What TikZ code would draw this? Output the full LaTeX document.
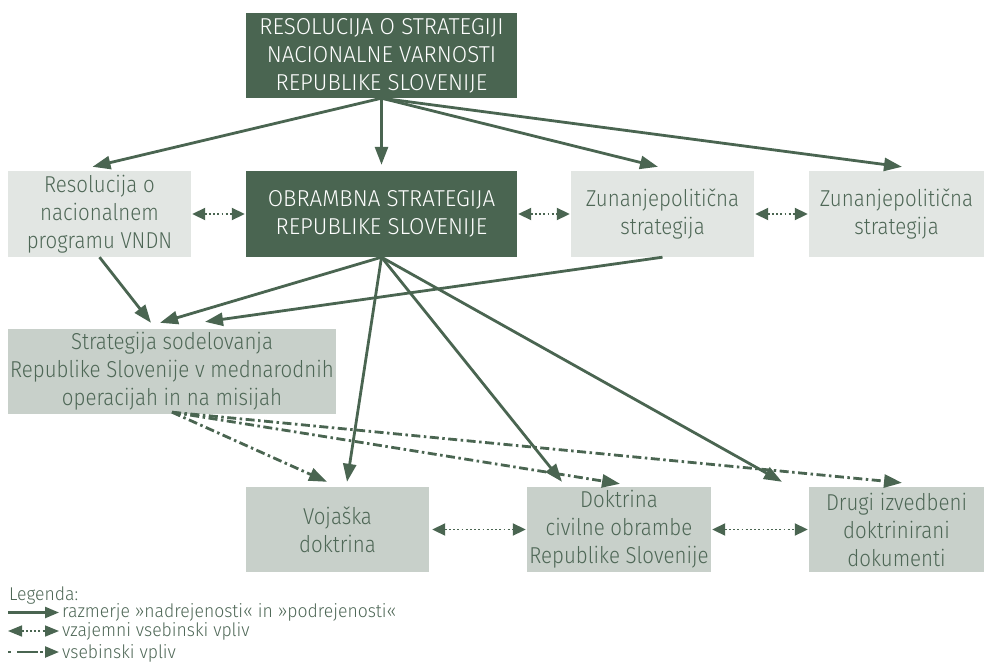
\documentclass[tikz,border=0pt]{standalone}
\usepackage{fontspec}
\setmainfont{Fira Sans Light}[FakeStretch=0.95]
\newfontfamily\lcfont{Fira Sans Light}[FakeStretch=0.89]
\newfontfamily\ucfont{Fira Sans Light}[FakeStretch=0.97]
\usetikzlibrary{arrows.meta,calc}
\definecolor{dk}{HTML}{4A6551}
\definecolor{lt}{HTML}{E2E6E3}
\definecolor{md}{HTML}{C8D0CA}
\definecolor{tx}{HTML}{4E6756}
\tikzset{
  box/.style={rectangle, inner sep=0pt, align=center},
  darkbox/.style={box, fill=dk, text=white, font=\ucfont\fontsize{23}{28}\selectfont},
  lightbox/.style={box, fill=lt, text=tx, font=\lcfont\fontsize{23}{28}\selectfont},
  midbox/.style={box, fill=md, text=tx, font=\lcfont\fontsize{23}{28}\selectfont},
  sup/.style={draw=dk, line width=2.8pt, -{Triangle[length=18pt,width=13pt]}},
  mutual/.style={draw=dk, line width=1.9pt, dash pattern=on 1.9pt off 2.3pt, {Triangle[length=13pt,width=12pt]}-{Triangle[length=13pt,width=12pt]}, shorten <=1pt, shorten >=1pt},
  infl/.style={draw=dk, line width=2.8pt, dash pattern=on 9pt off 3.5pt on 2.5pt off 3.5pt, -{Triangle[length=18pt,width=13pt]}},
  legtext/.style={anchor=base west, inner sep=0pt, text=tx, font=\fontsize{18.5}{18}\selectfont}
}
\begin{document}
\begin{tikzpicture}[x=1pt,y=-1pt]
\useasboundingbox (0,0) rectangle (984,661);
% boxes
\node[darkbox, minimum width=271pt, minimum height=85pt] (top) at (381.5,55.5) {RESOLUCIJA O STRATEGIJI\\NACIONALNE VARNOSTI\\REPUBLIKE SLOVENIJE};
\node[lightbox, minimum width=183pt, minimum height=86pt] (res) at (99.5,214) {Resolucija o\\nacionalnem\\programu VNDN};
\node[darkbox, minimum width=271pt, minimum height=86pt] (obr) at (381.5,214) {OBRAMBNA STRATEGIJA\\REPUBLIKE SLOVENIJE};
\node[lightbox, minimum width=183pt, minimum height=86pt] (zun1) at (662.5,214) {Zunanjepolitična\\strategija};
\node[lightbox, minimum width=175pt, minimum height=86pt] (zun2) at (896.5,214) {Zunanjepolitična\\strategija};
\node[midbox, minimum width=328pt, minimum height=85pt] (str) at (172,371.5) {Strategija sodelovanja\\Republike Slovenije v mednarodnih\\operacijah in na misijah};
\node[midbox, minimum width=183pt, minimum height=85pt] (voj) at (337.5,529.5) {Vojaška\\doktrina};
\node[midbox, minimum width=184pt, minimum height=85pt] (dok) at (619,529.5) {Doktrina\\civilne obrambe\\Republike Slovenije};
\node[midbox, minimum width=175pt, minimum height=85pt] (dru) at (896.5,529.5) {Drugi izvedbeni\\doktrinirani\\dokumenti};
% top level arrows
\draw[sup] (top.south) -- ([xshift=-7pt,yshift=4pt]res.north);
\draw[sup] (top.south) -- ([yshift=6pt]obr.north);
\draw[sup] (top.south) -- ([xshift=-4.5pt,yshift=4pt]zun1.north);
\draw[sup] (top.south) -- ([xshift=5.5pt,yshift=4pt]zun2.north);
% mutual
\draw[mutual] (res.east) -- (obr.west);
\draw[mutual] (obr.east) -- (zun1.west);
\draw[mutual] (zun1.east) -- (zun2.west);
\draw[mutual] ([xshift=2pt]voj.east) -- (dok.west);
\draw[mutual] (dok.east) -- (dru.west);
% to strategija
\draw[sup] (res.south) -- ([xshift=-21pt,yshift=6pt]str.north);
\draw[sup] (obr.south) -- ([xshift=-12pt,yshift=6pt]str.north);
\draw[sup] (zun1.south) -- ([xshift=33pt,yshift=7pt]str.north);
% obrambna to doctrines
\draw[sup] (obr.south) -- ([xshift=9.5pt,yshift=5pt]voj.north);
\draw[sup] (obr.south) -- ([xshift=-57pt,yshift=5pt]dok.north);
\draw[sup] (obr.south) -- ([xshift=-114.5pt,yshift=5pt]dru.north);
% strategija influences
\coordinate (s0) at ([yshift=2pt]str.south);
\draw[infl] (s0) -- ([xshift=-10.5pt,yshift=5pt]voj.north);
\draw[infl] (s0) -- ([xshift=1pt,yshift=3pt]dok.north);
\draw[infl] (s0) -- ([xshift=5.5pt,yshift=4pt]dru.north);
% legend
\node[legtext] (lg) at (9,600) {Legenda:};
\coordinate (l1a) at (8,612.5); \coordinate (l1b) at (59,612.5);
\draw[sup, line width=2.4pt, -{Triangle[length=14pt,width=11pt]}] (l1a) -- (l1b);
\node[legtext] (lt1) at (62,617.5) {razmerje »nadrejenosti« in »podrejenosti«};
\coordinate (l2a) at (8,631); \coordinate (l2b) at (59,631);
\draw[mutual, line width=1.6pt, shorten <=0pt, shorten >=0pt, {Triangle[length=14pt,width=11pt]}-{Triangle[length=14pt,width=11pt]}] (l2a) -- (l2b);
\node[legtext] (lt2) at (62,636) {vzajemni vsebinski vpliv};
\coordinate (l3a) at (8,652); \coordinate (l3b) at (59,652);
\draw[infl, line width=2.4pt, dash pattern=on 3pt off 6pt on 21pt off 2pt on 3pt off 2pt, -{Triangle[length=14pt,width=11pt]}] (l3a) -- (l3b);
\node[legtext] (lt3) at (62,658) {vsebinski vpliv};
\end{tikzpicture}
\end{document}
